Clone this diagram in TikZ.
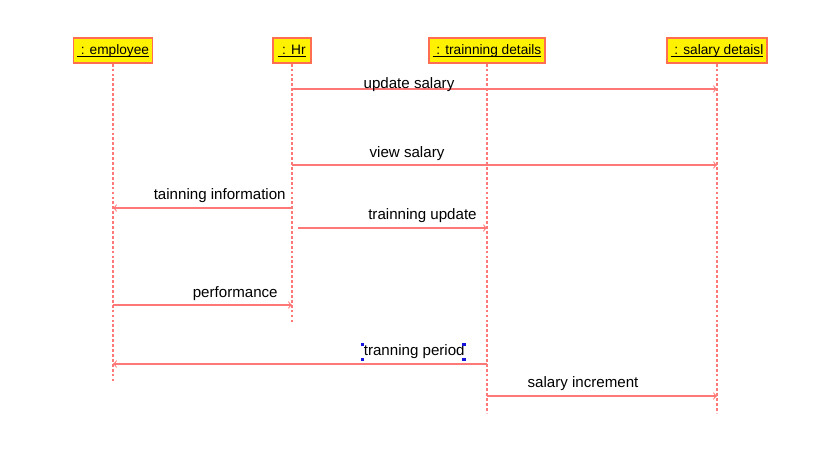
\documentclass[tikz,border=0pt]{standalone}
\usepackage{fontspec}
\setmainfont{Liberation Sans}
\usepackage{tikz}
\usetikzlibrary{arrows}
\usetikzlibrary{positioning}
\usetikzlibrary{calc}

\definecolor{boxline}{RGB}{255,110,80}
\definecolor{msgline}{RGB}{255,120,120}
\definecolor{handle}{RGB}{20,20,220}

\newcommand{\ulname}[1]{\setbox0\hbox{#1}\rlap{\rule[-1.3pt]{\wd0}{0.45pt}}\box0}

\tikzset{
  objbox/.style={draw=boxline, fill=yellow, line width=0.8pt, minimum height=0.5cm,
    inner xsep=2pt, font=\fontsize{7.8}{9}\selectfont},
  lifeline/.style={draw=msgline, dash pattern=on 1.6pt off 1.2pt, line width=0.6pt},
  msg/.style={draw=msgline, line width=0.6pt, ->, >=to},
  lbl/.style={inner sep=0pt, font=\fontsize{8.6}{10}\selectfont},
  grip/.style={fill=handle, minimum size=2pt, inner sep=0pt}
}

\begin{document}
\begin{tikzpicture}[x=0.02cm, y=-0.02cm]
  \path[use as bounding box] (0, 0) rectangle (826, 470);

  % objects
  \node[objbox, minimum width=1.56cm] (emp) at (113, 50.5) {\ulname{~: employee}};
  \node[objbox, minimum width=0.76cm] (hr)  at (292, 50.5) {\ulname{~: Hr}};
  \node[objbox, minimum width=2.3cm]  (trd) at (487, 50.5) {\ulname{~: trainning details}};
  \node[objbox, minimum width=1.96cm] (sal) at (717, 50.5) {\ulname{~: salary detaisl}};

  % lifelines
  \coordinate (empEnd) at (emp.south |- 0, 383);
  \coordinate (hrEnd)  at (hr.south  |- 0, 323);
  \coordinate (trdEnd) at (trd.south |- 0, 413);
  \coordinate (salEnd) at (sal.south |- 0, 413);
  \draw[lifeline] (emp.south) -- (empEnd);
  \draw[lifeline] (hr.south)  -- (hrEnd);
  \draw[lifeline] (trd.south) -- (trdEnd);
  \draw[lifeline] (sal.south) -- (salEnd);

  % messages
  \draw[msg] (hr |- 0, 89) -- (sal |- 0, 89);
  \node[lbl] (lUpd) at (409, 85) {update salary};

  \draw[msg] (hr |- 0, 165) -- (sal |- 0, 165);
  \node[lbl] (lView) at (407, 154) {view salary};

  \draw[msg] (hr |- 0, 208) -- (emp |- 0, 208);
  \node[lbl, anchor=east] (lInfo) at (286, 196) {tainning information};

  \draw[msg] ($(hr |- 0, 228) + (6, 0)$) -- (trd |- 0, 228);
  \node[lbl, anchor=east] (lTupd) at (477, 216) {trainning update};

  \draw[msg] (emp |- 0, 305) -- (hr |- 0, 305);
  \node[lbl, anchor=east] (lPerf) at (278, 294) {performance};

  \draw[msg] (trd |- 0, 364) -- (emp |- 0, 364);
  \node[lbl, anchor=east] (lPer) at (465, 352) {tranning period};
  \foreach \c in {north west, north east, south west, south east} {
    \node[grip] at ($(lPer.\c) + (-1, 0)$) {};
  }

  \draw[msg] (trd |- 0, 396) -- (sal |- 0, 396);
  \node[lbl] (lInc) at (583, 384) {salary increment};
\end{tikzpicture}
\end{document}
